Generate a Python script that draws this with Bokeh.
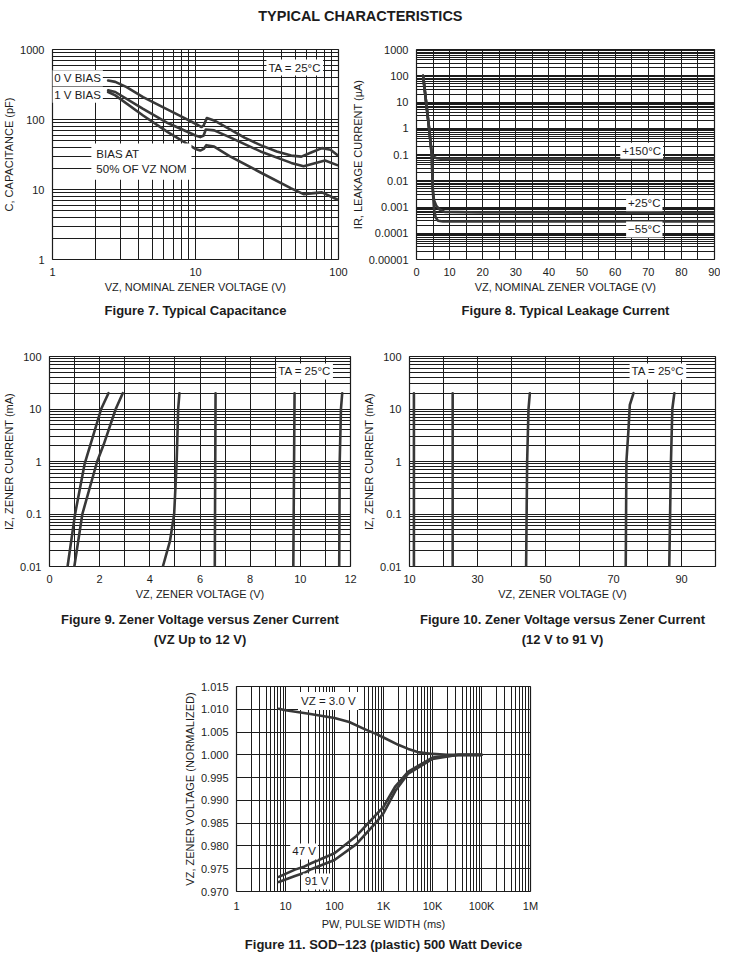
from bokeh.plotting import figure
from bokeh.models import (FixedTicker, CustomJSTickFormatter, Label, Title, Range1d, Spacer)
from bokeh.layouts import column, row
from bokeh.embed import file_html
from bokeh.resources import INLINE

# ---------------- data ----------------
# Figure 7 - capacitance vs nominal zener voltage
cap0_v = [2.45, 2.75, 3.3, 4.3, 6.0, 8.0, 10.0, 11.0, 11.4, 12.0, 13.5, 17.3, 22, 28.5, 37, 46.7, 55, 65, 76.6, 88, 98]
cap0_c = [360, 345, 290, 209, 148, 110, 87, 78, 82, 105, 97, 73, 55, 43, 35, 30.5, 29.5, 34, 39, 37, 31]
cap1_v = [2.45, 2.75, 4.3, 6.4, 10.0, 10.8, 11.4, 11.8, 13.5, 17.3, 28.5, 46.7, 57, 80.6, 98]
cap1_c = [261, 247, 142, 89, 59, 56, 59, 72, 70, 56, 35, 24, 21.5, 26, 22.3]
cap50_v = [2.45, 2.75, 4.3, 6.4, 10.0, 10.8, 11.4, 11.9, 13.5, 17.3, 28.5, 46.7, 57, 76.6, 98]
cap50_c = [247, 221, 114, 66, 38, 36, 38, 43, 41, 30, 17.5, 10.4, 8.6, 9.1, 7.2]
cap_x_ticks = [1, 10, 100]
cap_x_labels = ["1", "10", "100"]
cap_y_ticks = [1, 10, 100, 1000]
cap_y_labels = ["1", "10", "100", "1000"]

# Figure 8 - leakage current
leak150_v = [2.0, 2.9, 3.8, 4.6, 5.0, 6.0, 8.0, 30, 90]
leak150_i = [100, 10, 1, 0.12, 0.085, 0.072, 0.068, 0.068, 0.068]
leak25_v = [2.0, 2.9, 3.8, 4.6, 4.9, 5.3, 6.0, 7.0, 8.5, 20, 50, 90]
leak25_i = [100, 10, 1, 0.1, 0.005, 0.0018, 0.0011, 0.0008, 0.00065, 0.00062, 0.0006, 0.0006]
leakm55_v = [2.0, 2.9, 3.8, 4.6, 4.9, 5.3, 5.8, 6.5, 8, 30, 90]
leakm55_i = [100, 10, 1, 0.1, 0.005, 0.0008, 0.0004, 0.0003, 0.00028, 0.00028, 0.00028]
leak_x_ticks = [0, 10, 20, 30, 40, 50, 60, 70, 80, 90]
leak_y_ticks = [0.00001, 0.0001, 0.001, 0.01, 0.1, 1, 10, 100, 1000]
leak_y_labels = ["0.00001", "0.0001", "0.001", "0.01", "0.1", "1", "10", "100", "1000"]

# Figure 9 - zener voltage vs current, up to 12 V
z9a_v = [0.72, 1.02, 1.40, 1.75, 2.06, 2.35]
z9a_i = [0.01, 0.1, 0.9, 3.2, 10, 20]
z9b_v = [0.99, 1.31, 1.90, 2.16, 2.64, 2.92]
z9b_i = [0.01, 0.1, 1.0, 2.1, 10, 20]
z9c_v = [4.52, 4.80, 4.97, 5.07, 5.13, 5.18]
z9c_i = [0.01, 0.03, 0.1, 1, 10, 20]
z9d_v = [6.59, 6.62]
z9d_i = [0.01, 20]
z9e_v = [9.72, 9.77]
z9e_i = [0.01, 20]
z9f_v = [11.55, 11.57, 11.62, 11.67]
z9f_i = [0.01, 1, 10, 20]
z9_x_ticks = [0, 2, 4, 6, 8, 10, 12]
iz_y_ticks = [0.01, 0.1, 1, 10, 100]
iz_y_labels = ["0.01", "0.1", "1", "10", "100"]

# Figure 10 - zener voltage vs current, 12 V to 91 V
z10a_v = [11.3, 11.3]
z10a_i = [0.01, 20]
z10b_v = [22.7, 22.7]
z10b_i = [0.01, 20]
z10c_v = [44.3, 44.6, 45.0, 45.4]
z10c_i = [0.01, 1, 10, 20]
z10d_v = [73.6, 73.8, 74.4, 74.8, 75.9]
z10d_i = [0.01, 1, 4, 12, 20]
z10e_v = [86.4, 86.9, 87.3, 87.9]
z10e_i = [0.01, 1, 10, 20]
z10_x_ticks = [10, 30, 50, 70, 90]

# Figure 11 - normalized zener voltage vs pulse width
vz3_pw = [7.3, 10, 30, 100, 200, 400, 700, 1000, 2000, 3200, 5000, 10000, 20000, 100000]
vz3_v = [1.0101, 1.0098, 1.0090, 1.0081, 1.0072, 1.0057, 1.0046, 1.0038, 1.0022, 1.0013, 1.0006, 1.0002, 1.0000, 1.0000]
v47_pw = [7.3, 15.6, 24.5, 33.4, 100, 280, 700, 1000, 1750, 3200, 10000, 34000, 100000]
v47_v = [0.9732, 0.9748, 0.9755, 0.9762, 0.9784, 0.9822, 0.9868, 0.9886, 0.9931, 0.9963, 0.9994, 1.0, 1.0]
v91_pw = [7.3, 15.6, 24.5, 33.4, 100, 280, 700, 1000, 1750, 3200, 10000, 34000, 100000]
v91_v = [0.9721, 0.9734, 0.9741, 0.9749, 0.9769, 0.9804, 0.9851, 0.9872, 0.9921, 0.9959, 0.9991, 1.0, 1.0]
pw_x_ticks = [1, 10, 100, 1000, 10000, 100000, 1000000]
pw_x_labels = ["1", "10", "100", "1K", "10K", "100K", "1M"]
vzn_y_ticks = [0.970, 0.975, 0.980, 0.985, 0.990, 0.995, 1.000, 1.005, 1.010, 1.015]
vzn_y_labels = ["0.970", "0.975", "0.980", "0.985", "0.990", "0.995", "1.000", "1.005", "1.010", "1.015"]

# ---------------- styling ----------------
FONT = "Liberation Sans"
INK = "#1c1c1c"
CURVE = "#383838"
TICK_FS = "11px"
LAB_FS = "11px"


def fmt(vals, labs):
    return CustomJSTickFormatter(args=dict(vals=list(vals), labs=list(labs)), code="""
        for (let i = 0; i < vals.length; i++) {
            if (Math.abs(vals[i] - tick) <= 1e-6 * Math.abs(vals[i]) + 1e-12) return labs[i];
        }
        return '';
    """)


def log_grid(lo_exp, hi_exp):
    majors = [10.0 ** e for e in range(lo_exp, hi_exp + 1)]
    minors = [m * 10.0 ** e for e in range(lo_exp, hi_exp) for m in range(2, 10)]
    return FixedTicker(ticks=majors, minor_ticks=minors)


def make_fig(width, height, xr, yr, xtype, ytype, borders):
    left, right, top, bottom = borders
    p = figure(width=width, height=height, x_range=xr, y_range=yr,
               x_axis_type=xtype, y_axis_type=ytype,
               toolbar_location=None, output_backend="svg",
               min_border_left=left, min_border_right=right,
               min_border_top=top, min_border_bottom=bottom)
    p.outline_line_color = INK
    p.outline_line_width = 1.2
    p.outline_line_alpha = 1
    p.background_fill_color = "white"
    for ax in p.axis:
        ax.axis_line_color = None
        ax.major_tick_line_color = None
        ax.minor_tick_line_color = None
        ax.major_label_text_font = FONT
        ax.major_label_text_font_size = TICK_FS
        ax.major_label_text_color = INK
        ax.axis_label_text_font = FONT
        ax.axis_label_text_font_size = LAB_FS
        ax.axis_label_text_font_style = "normal"
        ax.axis_label_text_color = INK
        ax.major_label_standoff = 2
        ax.axis_label_standoff = 2
    for g in (p.xgrid[0], p.ygrid[0]):
        g.grid_line_color = INK
        g.grid_line_width = 1
        g.grid_line_alpha = 1
        g.minor_grid_line_color = INK
        g.minor_grid_line_width = 1
        g.minor_grid_line_alpha = 1
    return p


def caption(p, text, standoff=10):
    t = Title(text=text, align="center", text_font=FONT, text_font_size="13px",
              text_font_style="bold", text_color=INK, standoff=standoff)
    p.add_layout(t, "below")


def curve(p, x, y):
    p.line(x, y, line_width=2.6, line_color=CURVE, line_join="round", line_cap="round")


def note(p, x, y, text, align="left", pad=2):
    p.add_layout(Label(x=x, y=y, text=text, text_font=FONT, text_font_size="11.5px",
                       text_color=INK, text_align=align, text_baseline="middle",
                       background_fill_color="white", padding=pad))


# ---------------- page title ----------------
tp = figure(width=720, height=33, toolbar_location=None, output_backend="svg",
            x_axis_location=None, y_axis_location=None, min_border=0)
tp.outline_line_color = None
tp.grid.visible = False
tp.title.text = "TYPICAL CHARACTERISTICS"
tp.title.align = "center"
tp.title.text_font = FONT
tp.title.text_font_size = "14.5px"
tp.title.text_font_style = "bold"
tp.title.text_color = INK

# ---------------- Figure 7 ----------------
f7 = make_fig(348, 292, Range1d(1, 100), Range1d(1, 1000), "log", "log", (40, 10, 16, 66))
f7.xaxis.ticker = FixedTicker(ticks=cap_x_ticks)
f7.xaxis.formatter = fmt(cap_x_ticks, cap_x_labels)
f7.yaxis.ticker = FixedTicker(ticks=cap_y_ticks)
f7.yaxis.formatter = fmt(cap_y_ticks, cap_y_labels)
f7.xgrid[0].ticker = log_grid(0, 2)
f7.ygrid[0].ticker = log_grid(0, 3)
f7.xaxis.axis_label = "VZ, NOMINAL ZENER VOLTAGE (V)"
f7.yaxis.axis_label = "C, CAPACITANCE (pF)"
curve(f7, cap0_v, cap0_c)
curve(f7, cap1_v, cap1_c)
curve(f7, cap50_v, cap50_c)
note(f7, 2.25, 390, "0 V BIAS", "right")
note(f7, 2.25, 226, "1 V BIAS", "right")
note(f7, 1.87, 25, "BIAS AT\n50% OF VZ NOM", "left", pad=5)
note(f7, 78, 552, "TA = 25°C", "right")
caption(f7, "Figure 7. Typical Capacitance")

# ---------------- Figure 8 ----------------
f8 = make_fig(372, 292, Range1d(0, 90), Range1d(0.00001, 1000), "linear", "log", (52, 6, 16, 66))
f8.xaxis.ticker = FixedTicker(ticks=leak_x_ticks)
f8.yaxis.ticker = FixedTicker(ticks=leak_y_ticks)
f8.yaxis.formatter = fmt(leak_y_ticks, leak_y_labels)
f8.xgrid[0].ticker = FixedTicker(ticks=list(range(0, 95, 5)))
f8.ygrid[0].ticker = log_grid(-5, 3)
f8.xaxis.axis_label = "VZ, NOMINAL ZENER VOLTAGE (V)"
f8.yaxis.axis_label = "IR, LEAKAGE CURRENT (µA)"
curve(f8, leak150_v, leak150_i)
curve(f8, leak25_v, leak25_i)
curve(f8, leakm55_v, leakm55_i)
note(f8, 68, 0.14, "+150°C", "center")
note(f8, 68.8, 0.0014, "+25°C", "center")
note(f8, 68.8, 0.00014, "\u221255°C", "center")
caption(f8, "Figure 8. Typical Leakage Current")

# ---------------- Figure 9 ----------------
f9 = make_fig(360, 323, Range1d(0, 12), Range1d(0.01, 100), "linear", "log", (36, 10, 31, 82))
f9.xaxis.ticker = FixedTicker(ticks=z9_x_ticks)
f9.yaxis.ticker = FixedTicker(ticks=iz_y_ticks)
f9.yaxis.formatter = fmt(iz_y_ticks, iz_y_labels)
f9.xgrid[0].ticker = FixedTicker(ticks=list(range(0, 13)))
f9.ygrid[0].ticker = log_grid(-2, 2)
f9.xaxis.axis_label = "VZ, ZENER VOLTAGE (V)"
f9.yaxis.axis_label = "IZ, ZENER CURRENT (mA)"
for xs, ys in [(z9a_v, z9a_i), (z9b_v, z9b_i), (z9c_v, z9c_i),
               (z9d_v, z9d_i), (z9e_v, z9e_i), (z9f_v, z9f_i)]:
    curve(f9, xs, ys)
note(f9, 11.3, 52, "TA = 25°C", "right")
caption(f9, "Figure 9. Zener Voltage versus Zener Current", standoff=14)
caption(f9, "(VZ Up to 12 V)", standoff=-7)

# ---------------- Figure 10 ----------------
f10 = make_fig(360, 323, Range1d(10, 100), Range1d(0.01, 100), "linear", "log", (40, 5, 31, 82))
f10.xaxis.ticker = FixedTicker(ticks=z10_x_ticks)
f10.yaxis.ticker = FixedTicker(ticks=iz_y_ticks)
f10.yaxis.formatter = fmt(iz_y_ticks, iz_y_labels)
f10.xgrid[0].ticker = FixedTicker(ticks=list(range(10, 101, 10)))
f10.ygrid[0].ticker = log_grid(-2, 2)
f10.xaxis.axis_label = "VZ, ZENER VOLTAGE (V)"
f10.yaxis.axis_label = "IZ, ZENER CURRENT (mA)"
for xs, ys in [(z10a_v, z10a_i), (z10b_v, z10b_i), (z10c_v, z10c_i),
               (z10d_v, z10d_i), (z10e_v, z10e_i)]:
    curve(f10, xs, ys)
note(f10, 91.4, 52, "TA = 25°C", "right")
caption(f10, "Figure 10. Zener Voltage versus Zener Current", standoff=14)
caption(f10, "(12 V to 91 V)", standoff=-7)

# ---------------- Figure 11 ----------------
f11 = make_fig(380, 305, Range1d(1, 1000000), Range1d(0.970, 1.015), "log", "linear", (49, 30, 38, 60))
f11.xaxis.ticker = FixedTicker(ticks=pw_x_ticks)
f11.xaxis.formatter = fmt(pw_x_ticks, pw_x_labels)
f11.yaxis.ticker = FixedTicker(ticks=vzn_y_ticks)
f11.yaxis.formatter = fmt(vzn_y_ticks, vzn_y_labels)
f11.xgrid[0].ticker = log_grid(0, 6)
f11.xaxis.axis_label = "PW, PULSE WIDTH (ms)"
f11.yaxis.axis_label = "VZ, ZENER VOLTAGE (NORMALIZED)"
f11.xaxis.major_label_standoff = 2
f11.xaxis.axis_label_standoff = 3
curve(f11, vz3_pw, vz3_v)
curve(f11, v47_pw, v47_v)
curve(f11, v91_pw, v91_v)
note(f11, 18, 1.0118, "VZ = 3.0 V", "left", pad=3)
note(f11, 12.5, 0.9788, "47 V", "left", pad=2)
note(f11, 22.6, 0.9722, "91 V", "left", pad=2)
caption(f11, "Figure 11. SOD\u2212123 (plastic) 500 Watt Device", standoff=4)

layout = column(tp,
                row(f7, f8),
                row(f9, f10),
                row(Spacer(width=180, height=305), f11))

open("out.html", "w").write(file_html(layout, INLINE))
